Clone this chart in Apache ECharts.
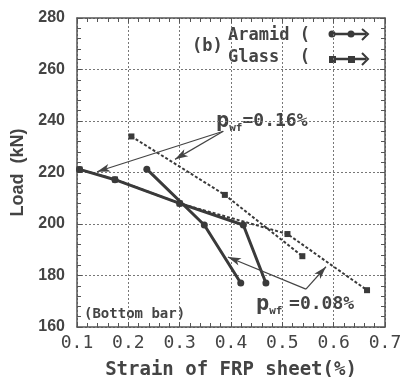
<!DOCTYPE html>
<html>
<head>
<meta charset="utf-8">
<script src="https://cdn.jsdelivr.net/npm/echarts@6/dist/echarts.min.js"></script>
<style>
  html, body { margin: 0; padding: 0; background: #fff; }
  #chart { width: 400px; height: 377px; }
</style>
</head>
<body>
<div id="chart"></div>
<script>
// strain (%) vs load (kN), bottom bar
const aramid16X = [0.105, 0.174, 0.30, 0.424, 0.468];
const aramid16Y = [221.2, 217.2, 208.0, 199.6, 177.1];
const aramid08X = [0.236, 0.348, 0.419];
const aramid08Y = [221.3, 199.6, 177.1];
const glass16X = [0.206, 0.388, 0.539];
const glass16Y = [234.0, 211.3, 187.5];
const glass08X = [0.105, 0.174, 0.30, 0.51, 0.665];
const glass08Y = [221.2, 217.3, 208.0, 196.1, 174.3];

const xTicks = [0.1, 0.2, 0.3, 0.4, 0.5, 0.6, 0.7];
const yTicks = [160, 180, 200, 220, 240, 260, 280];

// arrow annotations (from, to) in data units
const arrows16 = [
  [[0.385, 236.0], [0.139, 220.3]],
  [[0.385, 236.0], [0.291, 225.1]],
];
const arrows08 = [
  [[0.546, 174.7], [0.394, 187.2]],
  [[0.546, 174.7], [0.585, 183.4]],
];

const ink = '#3a3a3a';
const mono = '"DejaVu Sans Mono", monospace';
const sans = '"Liberation Sans", Arial, sans-serif';

const pairs = (xs, ys) => xs.map((x, i) => [x, ys[i]]);

const chart = echarts.init(document.getElementById('chart'));

const baseX = {
  type: 'value',
  min: xTicks[0],
  max: xTicks[xTicks.length - 1],
  interval: 0.1,
  axisLine: { show: true, lineStyle: { color: '#555', width: 1.5 } },
  axisTick: { show: true, inside: true, length: 5, lineStyle: { color: '#555' } },
  minorTick: { show: true, splitNumber: 5, length: 4, lineStyle: { color: '#555' } },
};
const baseY = {
  type: 'value',
  min: yTicks[0],
  max: yTicks[yTicks.length - 1],
  interval: 20,
  axisLine: { show: true, lineStyle: { color: '#555', width: 1.5 } },
  axisTick: { show: true, inside: true, length: 5, lineStyle: { color: '#555' } },
  minorTick: { show: true, splitNumber: 5, length: 4, lineStyle: { color: '#555' } },
};

const arrowLine = (list) => ({
  silent: true,
  symbol: ['none', 'arrow'],
  symbolSize: [6, 13],
  label: { show: false },
  lineStyle: { color: '#444', width: 1.2, type: 'solid' },
  data: list.map(([a, b]) => [{ coord: a }, { coord: b }]),
});

const option = {
  animation: false,
  backgroundColor: '#fff',
  grid: { left: 77, right: 15, top: 18, bottom: 50, containLabel: false, outerBoundsMode: 'none' },
  xAxis: [
    Object.assign({}, baseX, {
      position: 'bottom',
      name: 'Strain of FRP sheet(%)',
      nameLocation: 'middle',
      nameGap: 34,
      nameTextStyle: { fontFamily: mono, fontSize: 19, fontWeight: 'bold', color: '#444' },
      axisLabel: {
        margin: 7, fontFamily: mono, fontSize: 18, color: '#444',
        formatter: (v) => v.toFixed(1),
      },
      splitLine: { show: true, lineStyle: { color: '#777', type: [2, 2], width: 1 } },
    }),
    Object.assign({}, baseX, {
      position: 'top',
      axisLabel: { show: false },
      splitLine: { show: false },
    }),
  ],
  yAxis: [
    Object.assign({}, baseY, {
      position: 'left',
      name: 'Load  (kN)',
      nameLocation: 'middle',
      nameGap: 46,
      nameTextStyle: { fontFamily: sans, fontSize: 18, fontWeight: 'bold', color: '#444' },
      axisLabel: { margin: 12, fontFamily: sans, fontSize: 16, fontWeight: 'bold', color: '#444' },
      splitLine: { show: true, lineStyle: { color: '#777', type: [2, 2], width: 1 } },
    }),
    Object.assign({}, baseY, {
      position: 'right',
      axisLabel: { show: false },
      splitLine: { show: false },
    }),
  ],
  series: [
    {
      name: 'Glass 0.08', type: 'line', data: pairs(glass08X, glass08Y),
      symbol: 'rect', symbolSize: 6,
      lineStyle: { color: ink, width: 2, type: [3, 2] },
      itemStyle: { color: ink },
      markLine: arrowLine(arrows08),
    },
    {
      name: 'Glass 0.16', type: 'line', data: pairs(glass16X, glass16Y),
      symbol: 'rect', symbolSize: 6,
      lineStyle: { color: ink, width: 2, type: [3, 2] },
      itemStyle: { color: ink },
      markLine: arrowLine(arrows16),
    },
    {
      name: 'Aramid 0.16', type: 'line', data: pairs(aramid16X, aramid16Y),
      symbol: 'circle', symbolSize: 7,
      lineStyle: { color: ink, width: 3 },
      itemStyle: { color: ink },
    },
    {
      name: 'Aramid 0.08', type: 'line', data: pairs(aramid08X, aramid08Y),
      symbol: 'circle', symbolSize: 7,
      lineStyle: { color: ink, width: 3 },
      itemStyle: { color: ink },
    },
  ],
  graphic: [
    // panel tag and legend
    { type: 'text', left: 192, top: 38, style: { text: '(b)', font: 'bold 17px ' + mono, fill: '#444' } },
    { type: 'text', left: 228, top: 27, style: { text: 'Aramid (', font: 'bold 17px ' + mono, fill: '#444' } },
    { type: 'text', left: 228, top: 49, style: { text: 'Glass  (', font: 'bold 17px ' + mono, fill: '#444' } },
    { type: 'line', shape: { x1: 331, y1: 34, x2: 366, y2: 34 }, style: { stroke: ink, lineWidth: 2.5 } },
    { type: 'circle', shape: { cx: 332, cy: 34, r: 3.5 }, style: { fill: ink } },
    { type: 'circle', shape: { cx: 351, cy: 34, r: 3.5 }, style: { fill: ink } },
    { type: 'polyline', shape: { points: [[362, 29], [368, 34], [362, 40]] }, style: { stroke: ink, lineWidth: 2, fill: null } },
    { type: 'line', shape: { x1: 331, y1: 59, x2: 366, y2: 59 }, style: { stroke: ink, lineWidth: 2.5 } },
    { type: 'rect', shape: { x: 329, y: 56, width: 7, height: 7 }, style: { fill: ink } },
    { type: 'rect', shape: { x: 348, y: 56, width: 7, height: 7 }, style: { fill: ink } },
    { type: 'polyline', shape: { points: [[362, 53], [368, 59], [362, 65]] }, style: { stroke: ink, lineWidth: 2, fill: null } },
    // reinforcement ratio labels
    {
      type: 'text', left: 216, top: 110,
      style: {
        text: '{p|p}{s|wf}{v|=0.16%}',
        rich: {
          p: { font: 'bold 22px ' + mono, fill: '#444' },
          s: { font: 'bold 11px ' + mono, fill: '#444', padding: [14, 0, 0, 0] },
          v: { font: 'bold 18px ' + mono, fill: '#444' },
        },
      },
    },
    {
      type: 'text', left: 256, top: 293,
      style: {
        text: '{p|p}{s|wf}{g| }{v|=0.08%}',
        rich: {
          p: { font: 'bold 22px ' + mono, fill: '#444' },
          s: { font: 'bold 11px ' + mono, fill: '#444', padding: [14, 0, 0, 0] },
          g: { font: 'bold 11px ' + mono, fill: '#444' },
          v: { font: 'bold 18px ' + mono, fill: '#444' },
        },
      },
    },
    { type: 'text', left: 84, top: 307, style: { text: '(Bottom bar)', font: 'bold 14px ' + mono, fill: '#444' } },
  ],
};

chart.setOption(option);
</script>
</body>
</html>
